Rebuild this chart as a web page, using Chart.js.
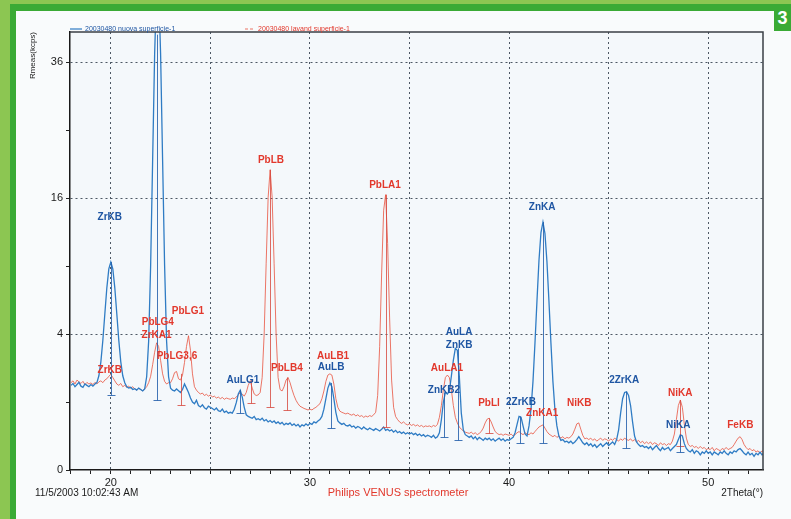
<!DOCTYPE html>
<html>
<head>
<meta charset="utf-8">
<script src="https://cdn.jsdelivr.net/npm/chart.js@4.4.1/dist/chart.umd.min.js"></script>
<style>
  html, body { margin: 0; padding: 0; }
  body { width: 791px; height: 519px; position: relative; overflow: hidden; background: #8cc652;
         font-family: "Liberation Sans", Arial, sans-serif; }
  #panel { position: absolute; left: 10px; top: 4px; width: 775px; height: 511px;
           background: #f9fbfc; border-left: 6px solid #3aaa35; border-top: 7px solid #3aaa35;
           border-bottom: 2px solid #b9e3a6; }
  #tag { position: absolute; right: 0; top: 5px; width: 17px; height: 26px; background: #3aaa35;
         color: #fff; font: bold 18px "Liberation Sans", Arial, sans-serif; text-align: center; line-height: 27px; }
  #wrap { position: absolute; left: 0; top: 0; width: 791px; height: 519px; }
</style>
</head>
<body>
<div id="panel"></div>
<div id="tag">3</div>
<div id="wrap"><canvas id="c" width="791" height="519"></canvas></div>
<script>
// ---- data (Rmeas in kcps, sampled every 0.1° 2Theta starting at 18.0°) ----
const thetaStart = 18.0;
const thetaStep = 0.1;

const seriesNames = ['20030480 nuova superficie-1', '20030480 lavand superficie-1'];

const nuovaKcps = [
  1.55,1.62,1.5,1.58,1.66,1.52,1.48,1.6,1.55,1.5,
  1.58,1.52,1.6,1.65,1.92,2.53,3.64,5.28,7.18,8.75,
  9.36,8.75,7.18,5.28,3.64,2.53,1.92,1.65,1.5,1.45,
  1.48,1.4,1.43,1.38,1.45,1.4,1.35,1.42,1.88,3.6,
  9.1,20.8,37.4,50.4,50.4,37.4,20.8,9.1,3.6,1.88,
  1.45,1.38,1.35,1.42,1.36,1.3,1.4,1.6,1.45,1.3,
  1.12,1.0,0.95,1.05,0.9,0.86,0.92,0.84,0.8,0.88,
  0.85,0.82,0.78,0.83,0.76,0.74,0.8,0.72,0.75,0.7,
  0.72,0.7,0.8,0.98,1.25,1.38,1.15,0.85,0.66,0.62,
  0.6,0.58,0.62,0.55,0.57,0.54,0.58,0.52,0.55,0.5,
  0.53,0.49,0.52,0.47,0.5,0.46,0.49,0.44,0.47,0.45,
  0.48,0.43,0.46,0.42,0.45,0.4,0.44,0.42,0.46,0.43,
  0.47,0.45,0.5,0.48,0.52,0.55,0.62,0.8,1.1,1.45,
  1.64,1.5,1.1,0.72,0.52,0.48,0.45,0.47,0.43,0.42,
  0.44,0.4,0.42,0.38,0.41,0.39,0.36,0.4,0.37,0.35,
  0.38,0.36,0.34,0.37,0.35,0.33,0.36,0.4,0.34,0.36,
  0.33,0.35,0.31,0.34,0.3,0.32,0.29,0.31,0.28,0.3,
  0.28,0.3,0.27,0.29,0.26,0.28,0.25,0.27,0.24,0.26,
  0.25,0.23,0.26,0.22,0.24,0.3,0.55,1.0,1.3,1.25,
  1.35,1.9,2.6,3.2,3.1,1.9,0.7,0.35,0.27,0.25,
  0.23,0.25,0.21,0.24,0.2,0.23,0.21,0.19,0.22,0.2,
  0.22,0.19,0.21,0.18,0.2,0.22,0.19,0.21,0.18,0.2,
  0.19,0.21,0.23,0.3,0.45,0.62,0.6,0.42,0.28,0.25,
  0.42,0.8,1.7,3.5,6.2,9.5,12.2,13.3,12.1,9.4,
  6.2,3.5,1.7,0.8,0.42,0.25,0.19,0.2,0.17,0.18,
  0.16,0.18,0.15,0.17,0.2,0.24,0.2,0.16,0.14,0.16,
  0.13,0.15,0.12,0.14,0.11,0.13,0.15,0.12,0.14,0.16,
  0.13,0.15,0.17,0.14,0.2,0.35,0.7,1.1,1.3,1.32,
  1.2,0.9,0.5,0.25,0.17,0.14,0.12,0.13,0.11,0.12,
  0.1,0.12,0.09,0.11,0.13,0.1,0.08,0.11,0.09,0.1,
  0.11,0.08,0.1,0.12,0.14,0.2,0.27,0.25,0.15,0.1,
  0.08,0.07,0.09,0.06,0.08,0.07,0.05,0.07,0.06,0.08,
  0.06,0.07,0.05,0.07,0.06,0.05,0.07,0.06,0.08,0.06,
  0.05,0.07,0.06,0.08,0.07,0.09,0.1,0.08,0.06,0.05,
  0.07,0.05,0.06,0.04,0.06,0.05,0.07,0.05,0.06
];

const lavandKcps = [
  1.65,1.72,1.6,1.75,1.68,1.62,1.7,1.58,1.66,1.6,
  1.64,1.58,1.66,1.6,1.68,1.72,1.65,1.75,1.8,1.9,
  1.98,1.85,1.72,1.6,1.55,1.62,1.5,1.55,1.48,1.52,
  1.45,1.5,1.42,1.38,1.45,1.4,1.36,1.42,1.5,1.65,
  1.9,2.4,3.0,3.5,3.3,2.6,2.0,1.7,1.6,1.65,
  1.65,1.8,2.05,2.1,1.8,1.75,1.95,2.5,3.3,3.9,
  3.1,2.0,1.5,1.38,1.3,1.25,1.28,1.2,1.24,1.18,
  1.22,1.15,1.18,1.12,1.15,1.1,1.14,1.08,1.12,1.1,
  1.08,1.12,1.1,1.15,1.22,1.3,1.25,1.18,1.3,1.55,
  1.72,1.45,1.25,1.2,1.22,1.3,1.85,4.0,9.2,16.1,
  19.5,16.1,9.2,4.0,1.85,1.4,1.35,1.5,1.75,1.85,
  1.65,1.4,1.2,1.05,0.95,0.88,0.85,0.82,0.8,0.78,
  0.8,0.78,0.82,0.85,0.9,0.95,1.1,1.35,1.7,1.95,
  2.0,1.95,1.6,1.1,0.85,0.75,0.72,0.7,0.68,0.7,
  0.67,0.65,0.68,0.63,0.66,0.62,0.64,0.6,0.63,0.61,
  0.64,0.62,0.66,0.72,1.2,3.3,8.4,14.6,16.4,11.1,
  5.0,1.75,0.85,0.62,0.55,0.5,0.47,0.5,0.46,0.44,
  0.46,0.43,0.45,0.42,0.44,0.41,0.43,0.4,0.42,0.41,
  0.42,0.4,0.43,0.41,0.45,0.6,0.9,1.4,1.85,1.95,
  1.85,1.4,0.9,0.6,0.48,0.4,0.36,0.33,0.31,0.3,
  0.29,0.31,0.28,0.3,0.27,0.29,0.32,0.38,0.48,0.56,
  0.58,0.5,0.4,0.32,0.29,0.27,0.28,0.26,0.28,0.27,
  0.26,0.28,0.25,0.27,0.3,0.32,0.29,0.27,0.3,0.28,
  0.27,0.3,0.28,0.32,0.36,0.4,0.42,0.44,0.38,0.32,
  0.28,0.26,0.24,0.26,0.23,0.25,0.22,0.24,0.21,0.23,
  0.22,0.24,0.28,0.36,0.46,0.48,0.36,0.26,0.21,0.22,
  0.2,0.22,0.19,0.21,0.18,0.2,0.22,0.19,0.21,0.2,
  0.18,0.21,0.19,0.22,0.2,0.18,0.21,0.19,0.22,0.2,
  0.19,0.21,0.18,0.2,0.17,0.19,0.16,0.18,0.15,0.17,
  0.15,0.17,0.14,0.16,0.15,0.13,0.16,0.14,0.15,0.13,
  0.15,0.14,0.18,0.28,0.55,0.9,1.06,0.85,0.45,0.22,
  0.14,0.12,0.13,0.11,0.12,0.1,0.12,0.1,0.11,0.09,
  0.1,0.09,0.11,0.08,0.1,0.09,0.08,0.1,0.09,0.11,
  0.09,0.1,0.11,0.14,0.18,0.22,0.24,0.2,0.14,0.11,
  0.09,0.1,0.08,0.09,0.07,0.08,0.06,0.08,0.07
];

const yTickValues = [0, 1, 4, 9, 16, 25, 36];
const yTickLabels = ['0', '', '4', '', '16', '', '36'];
const xTickLabels = ['20', '30', '40', '50'];

// peak identification labels: [text, 2Theta, kcps]
const nuovaPeakLabels = [
  ['ZrKB', 19.95, 13.84], ['AuLG1', 26.63, 1.75], ['AuLB', 31.06, 2.29],
  ['AuLA', 37.49, 4.12], ['ZnKB', 37.49, 3.38], ['ZnKB2', 36.73, 1.38],
  ['2ZrKB', 40.6, 1.0], ['ZnKA', 41.66, 14.96], ['2ZrKA', 45.78, 1.75], ['NiKA', 48.49, 0.44]
];
const lavandPeakLabels = [
  ['ZrKB', 19.95, 2.16], ['PbLG4', 22.36, 4.74], ['ZrKA1', 22.3, 3.94], ['PbLG1', 23.87, 5.47],
  ['PbLG3,6', 23.32, 2.81], ['PbLB', 28.04, 20.8], ['PbLB4', 28.84, 2.25], ['AuLB1', 31.16, 2.81],
  ['PbLA1', 33.77, 17.57], ['AuLA1', 36.88, 2.25], ['PbLl', 38.99, 0.97], ['ZnKA1', 41.66, 0.70],
  ['NiKB', 43.52, 0.97], ['NiKA', 48.59, 1.28], ['FeKB', 51.61, 0.44]
];
// peak position markers: [2Theta, top kcps, bottom kcps]
const nuovaMarkers = [
  [20.0, 9.36, 1.22], [22.33, 41, 1.06], [26.5, 1.38, 0.70], [31.05, 1.64, 0.38],
  [36.75, 1.3, 0.235], [37.45, 3.2, 0.195], [40.55, 0.62, 0.158], [41.7, 13.3, 0.158],
  [45.85, 1.32, 0.105], [48.6, 0.27, 0.07]
];
const lavandMarkers = [
  [23.5, 2.0, 0.91], [27.05, 1.75, 0.97], [28.0, 19.5, 0.86], [28.85, 1.85, 0.78],
  [33.8, 16.4, 0.40], [39.0, 0.58, 0.30], [48.6, 1.06, 0.12]
];

const footerLeft = '11/5/2003 10:02:43 AM';
const footerCenter = 'Philips VENUS spectrometer';

// ---- build ----
const BLUE = '#2f7cc4', BLUE_TXT = '#1f56a3';
const RED = 'rgba(232,84,64,0.8)', RED_TXT = '#e2382c';
const FONT = '"Liberation Sans", Arial, sans-serif';
const toPoints = arr => arr.map((v, i) => ({ x: +(thetaStart + i * thetaStep).toFixed(1), y: v }));

class SqrtScale extends Chart.LinearScale {
  getPixelForValue(value) {
    if (value === null || value === undefined || isNaN(value)) return NaN;
    const s0 = Math.sqrt(Math.max(this.min, 0)), s1 = Math.sqrt(this.max);
    return this.getPixelForDecimal((Math.sqrt(Math.max(value, 0)) - s0) / (s1 - s0));
  }
  getValueForPixel(pixel) {
    const s0 = Math.sqrt(Math.max(this.min, 0)), s1 = Math.sqrt(this.max);
    const s = s0 + this.getDecimalForPixel(pixel) * (s1 - s0);
    return s * s;
  }
}
SqrtScale.id = 'sqrt';
SqrtScale.defaults = {};
Chart.register(SqrtScale);

const GRID = '#4d5864';

const decor = {
  id: 'decor',
  beforeDraw(chart) {
    const { ctx, chartArea: a } = chart;
    ctx.save();
    ctx.fillStyle = '#f4f8fb';
    ctx.fillRect(a.left, a.top, a.right - a.left, a.bottom - a.top);
    ctx.restore();
  },
  afterDraw(chart) {
    const { ctx, chartArea: a, scales: { x, y } } = chart;
    ctx.save();
    // frame top / right
    ctx.strokeStyle = '#3a3f46'; ctx.lineWidth = 1.5;
    ctx.beginPath(); ctx.moveTo(a.left, a.top); ctx.lineTo(a.right, a.top); ctx.lineTo(a.right, a.bottom); ctx.stroke();

    // peak markers
    ctx.save();
    ctx.beginPath(); ctx.rect(a.left, a.top, a.right - a.left, a.bottom - a.top); ctx.clip();
    const drawMarkers = (list, color) => {
      ctx.strokeStyle = color; ctx.lineWidth = 1;
      list.forEach(([t, top, bot]) => {
        const px = Math.round(x.getPixelForValue(t)) + 0.5;
        const y1 = y.getPixelForValue(top), y2 = Math.round(y.getPixelForValue(bot)) + 0.5;
        ctx.beginPath(); ctx.moveTo(px, y1); ctx.lineTo(px, y2);
        ctx.moveTo(px - 4, y2); ctx.lineTo(px + 4, y2); ctx.stroke();
      });
    };
    drawMarkers(lavandMarkers, 'rgba(214,70,60,0.8)');
    drawMarkers(nuovaMarkers, 'rgba(35,95,170,0.85)');
    ctx.restore();

    // peak labels
    ctx.font = 'bold 10px ' + FONT;
    ctx.textAlign = 'center'; ctx.textBaseline = 'middle';
    ctx.fillStyle = RED_TXT;
    lavandPeakLabels.forEach(([s, t, v]) => ctx.fillText(s, x.getPixelForValue(t), y.getPixelForValue(v)));
    ctx.fillStyle = BLUE_TXT;
    nuovaPeakLabels.forEach(([s, t, v]) => ctx.fillText(s, x.getPixelForValue(t), y.getPixelForValue(v)));

    // legend
    const ly = 29;
    ctx.font = '7px ' + FONT;
    ctx.textAlign = 'left';
    ctx.strokeStyle = BLUE; ctx.lineWidth = 1.2;
    ctx.beginPath(); ctx.moveTo(70, ly); ctx.lineTo(82, ly); ctx.stroke();
    ctx.fillStyle = BLUE_TXT; ctx.fillText(chart.data.datasets[0].label, 85, ly);
    ctx.strokeStyle = RED; ctx.setLineDash([3, 2]);
    ctx.beginPath(); ctx.moveTo(245, ly); ctx.lineTo(255, ly); ctx.stroke();
    ctx.setLineDash([]);
    ctx.fillStyle = RED_TXT; ctx.fillText(chart.data.datasets[1].label, 258, ly);

    // footer
    ctx.font = '10px ' + FONT;
    ctx.fillStyle = '#1a1a1a'; ctx.textAlign = 'left';
    ctx.fillText(footerLeft, 35, 493);
    ctx.font = '11px ' + FONT;
    ctx.fillStyle = RED_TXT; ctx.textAlign = 'center';
    ctx.fillText(footerCenter, 398, 493);
    ctx.restore();
  }
};

new Chart(document.getElementById('c'), {
  type: 'line',
  data: {
    datasets: [
      { label: seriesNames[0], data: toPoints(nuovaKcps), borderColor: BLUE, borderWidth: 1.3,
        pointRadius: 0, tension: 0, fill: false },
      { label: seriesNames[1], data: toPoints(lavandKcps), borderColor: RED, borderWidth: 1,
        pointRadius: 0, tension: 0, fill: false }
    ]
  },
  options: {
    responsive: false, animation: false, devicePixelRatio: 1,
    layout: { padding: { left: 26, top: 32, right: 28, bottom: 0 } },
    plugins: { legend: { display: false }, tooltip: { enabled: false } },
    scales: {
      x: {
        type: 'linear', min: 17.95, max: 52.75,
        afterBuildTicks(s) { const t = []; for (let v = 18; v <= 52; v++) t.push({ value: v }); s.ticks = t; },
        afterFit(s) { s.height = 49; },
        ticks: { autoSkip: false, maxRotation: 0, padding: 2, color: '#1a1a1a',
                 font: { family: FONT, size: 11 },
                 callback: v => xTickLabels.includes(String(v)) ? String(v) : '' },
        grid: { color: c => (c.tick && c.tick.value % 5 === 0) ? GRID : 'rgba(0,0,0,0)',
                tickColor: '#222', tickLength: 4, lineWidth: 1 },
        border: { display: true, color: '#1a1a1a', width: 1.5, dash: [2, 3] },
        title: { display: true, text: '2Theta(°)', align: 'end', color: '#1a1a1a',
                 font: { family: FONT, size: 10 },
                 padding: { top: 0, bottom: 20 } }
      },
      y: {
        type: 'sqrt', min: 0, max: 41.5, bounds: 'data',
        afterBuildTicks(s) { s.ticks = yTickValues.map(v => ({ value: v })); },
        afterFit(s) { s.width = 44; },
        ticks: { padding: 3, color: '#1a1a1a',
                 font: { family: FONT, size: 11 },
                 callback: (v) => { const i = yTickValues.indexOf(v); return i >= 0 ? yTickLabels[i] : ''; } },
        grid: { color: c => (c.tick && yTickLabels[yTickValues.indexOf(c.tick.value)] && c.tick.value > 0) ? GRID : 'rgba(0,0,0,0)',
                tickColor: '#222', tickLength: 4, lineWidth: 1 },
        border: { display: true, color: '#1a1a1a', width: 1.5, dash: [2, 3] },
        title: { display: true, text: 'Rmeas(kcps)', align: 'end', color: '#222',
                 font: { family: FONT, size: 8 },
                 padding: { top: 2, bottom: 0 } }
      }
    }
  },
  plugins: [decor]
});
</script>
</body>
</html>
